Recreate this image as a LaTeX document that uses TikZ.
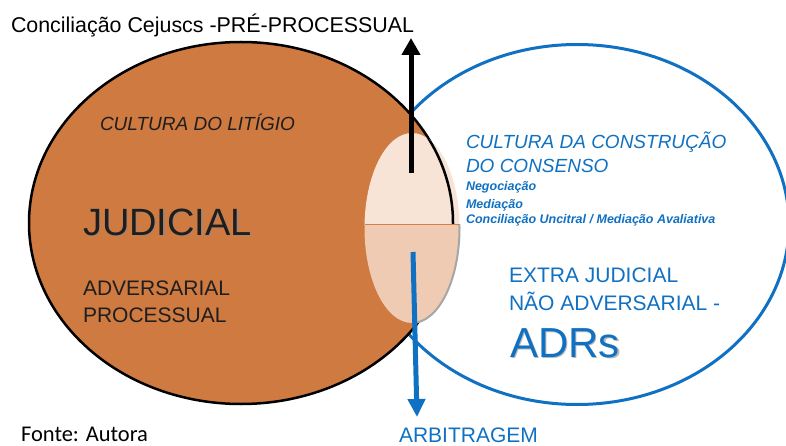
\documentclass[tikz,border=0pt]{standalone}
\usepackage{fontspec}
\setmainfont{Liberation Sans}
\newfontfamily\calib{Carlito}
\usetikzlibrary{arrows.meta}
\definecolor{orangefill}{RGB}{207,122,65}
\definecolor{adrblue}{RGB}{16,113,194}
\definecolor{lightup}{RGB}{248,228,214}
\definecolor{lightdown}{RGB}{238,203,178}
\definecolor{dividercol}{RGB}{214,128,72}
\definecolor{darktext}{RGB}{30,30,30}
\begin{document}
\begin{tikzpicture}[x=1pt,y=-1pt,
  txt/.style={anchor=base west, inner sep=0pt, outer sep=0pt},
  bluetxt/.style={txt, text=adrblue},
  shadowtxt/.style={txt, text=black!45, opacity=0.6},
  blackarrow/.style={line width=5pt, -{Triangle[length=17pt,width=18pt]}},
  bluearrow/.style={line width=5pt, draw=adrblue, -{Triangle[length=18pt,width=17pt]}}]
\useasboundingbox (0,0) rectangle (786,446);
% right ellipse (ADRs)
\draw[adrblue, line width=3pt, fill=white] (577,224.5) ellipse [x radius=212pt, y radius=180pt];
% left ellipse (judicial)
\draw[black, line width=2.5pt, fill=orangefill] (241,223) ellipse [x radius=212pt, y radius=181pt];
% light middle ellipse, upper part
\begin{scope}
  \clip (300,0) rectangle (500,225);
  \fill[lightup] (412,228) ellipse [x radius=47.5pt, y radius=95pt];
  \clip (412,228) ellipse [x radius=47.5pt, y radius=95pt];
  \draw[black, line width=2.5pt] (241,223) ellipse [x radius=212pt, y radius=181pt];
\end{scope}
% lower part
\begin{scope}
  \clip (300,225) rectangle (500,400);
  \fill[lightdown] (412,228) ellipse [x radius=47.5pt, y radius=95pt];
  \clip (412,225) rectangle (500,400);
  \draw[black!35, line width=2pt] (412,228) ellipse [x radius=47.5pt, y radius=95pt];
\end{scope}
\draw[dividercol, line width=1pt] (364.6,225) -- (459.4,225);
% arrows
\coordinate (upstart) at (411,173);
\coordinate (uptip) at (411,38);
\draw[blackarrow] (upstart) -- (uptip);
\coordinate (downstart) at (413,252);
\coordinate (downtip) at (417,417);
\draw[bluearrow] (downstart) -- (downtip);
% texts
\node[txt] (prep) at (11,33) {\fontsize{21.4}{25}\selectfont Conciliação Cejuscs -PRÉ-PROCESSUAL};
\node[txt, text=darktext] (litigio) at (100,131) {\fontsize{19}{23}\selectfont\itshape CULTURA DO LITÍGIO};
\node[shadowtxt] (judsh) at (84.5,236.5) {\fontsize{38}{44}\selectfont JUDICIAL};
\node[txt, text=darktext] (judicial) at (83,235) {\fontsize{38}{44}\selectfont JUDICIAL};
\node[txt, text=darktext] (advers) at (83,295) {\fontsize{21}{25}\selectfont ADVERSARIAL};
\node[txt, text=darktext] (process) at (83,322) {\fontsize{21}{25}\selectfont PROCESSUAL};
\node[bluetxt] (cult1) at (466,149) {\fontsize{19}{23}\selectfont\itshape CULTURA DA CONSTRUÇÃO};
\node[bluetxt] (cult2) at (466,173) {\fontsize{19}{23}\selectfont\itshape DO CONSENSO};
\node[bluetxt] (neg) at (466,191) {\fontsize{12.5}{14}\selectfont\bfseries\itshape Negociação};
\node[bluetxt] (med) at (466,208) {\fontsize{12.5}{14}\selectfont\bfseries\itshape Mediação};
\node[bluetxt] (conc) at (466,224) {\fontsize{12.5}{14}\selectfont\bfseries\itshape Conciliação Uncitral / Mediação Avaliativa};
\node[bluetxt] (extra) at (509,282) {\fontsize{21}{25}\selectfont EXTRA JUDICIAL};
\node[bluetxt] (nao) at (509,310) {\fontsize{21}{25}\selectfont NÃO ADVERSARIAL -};
\node[shadowtxt] (adrsh) at (511.5,358.5) {\fontsize{42}{48}\selectfont ADRs};
\node[bluetxt] (adrs) at (510,357) {\fontsize{42}{48}\selectfont ADRs};
\node[bluetxt] (arb) at (399,442) {\fontsize{21}{25}\selectfont ARBITRAGEM};
\node[txt] (fonte) at (21,441) {\calib\fontsize{22.5}{26}\selectfont Fonte: Autora};
\end{tikzpicture}
\end{document}
